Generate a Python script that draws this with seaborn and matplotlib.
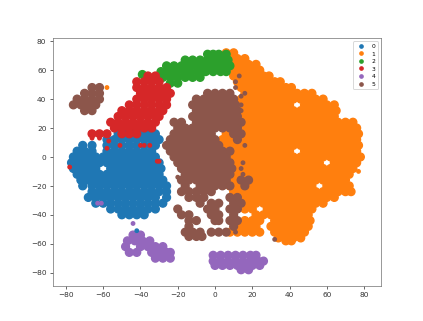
import matplotlib
matplotlib.use("Agg")
import matplotlib.pyplot as plt
import pandas as pd
import seaborn as sns

# Each row: (y, x positions read along that y)
blue_rows = [
 (16,[-52,-48,-44,-40,-36,-32]),
 (12,[-58,-54,-50,-46,-42,-38,-34,-30]),
 (8,[-71,-66,-58,-54,-50,-46,-42,-38,-34,-32]),
 (4,[-74,-70,-66,-58,-54,-50,-46,-42,-38,-34]),
 (0,[-76,-72,-68,-64,-60,-56,-52,-48,-44,-40,-36,-32]),
 (-4,[-77,-74,-70,-66,-62,-58,-54,-50,-46,-42,-38,-34,-30]),
 (-8,[-76,-72,-68,-64,-56,-52,-48,-44,-40,-36,-32,-29]),
 (-12,[-74,-70,-66,-62,-58,-54,-50,-46,-42,-38,-34,-30]),
 (-16,[-72,-68,-64,-60,-56,-52,-48,-44,-40,-36,-32,-28]),
 (-20,[-71,-66,-62,-58,-54,-50,-46,-42,-38,-34,-30,-26]),
 (-24,[-66,-62,-58,-54,-50,-46,-42,-38,-34,-30,-26]),
 (-28,[-68,-64,-60,-56,-52,-48,-44,-40,-36,-32,-26]),
 (-32,[-64,-60,-56,-52,-48,-44,-40,-36,-32,-28]),
 (-36,[-56,-52,-48,-44,-40,-36,-32]),
 (-40,[-50,-46,-42,-38]),
]
orange_rows = [
 (72,[6,10]),
 (68,[8,12,16]),
 (64,[10,14,18,22]),
 (60,[8,12,16,20,24]),
 (56,[10,14,18,22,26,29]),
 (52,[12,16,20,24,28,32,35]),
 (48,[14,18,22,26,30,34,38,41]),
 (44,[16,20,24,28,32,36,40,44,48,52]),
 (40,[14,18,22,26,30,34,38,42,46,50,54,58]),
 (36,[16,20,24,28,32,36,40,48,52,56,60,64]),
 (32,[14,18,22,26,30,34,38,42,46,50,54,58,62,65]),
 (28,[16,20,24,28,32,36,40,44,48,52,56,60,64]),
 (24,[14,18,22,26,30,34,38,42,46,50,54,58,62,66,70,74]),
 (20,[16,20,24,28,32,36,40,44,48,52,56,60,64,68,72,76]),
 (16,[6,14,18,22,26,30,34,38,42,46,50,54,58,62,66,70,74,77]),
 (12,[4,8,12,16,20,24,28,32,36,40,44,48,52,56,60,64,68,72,76]),
 (8,[6,10,14,18,22,26,30,34,38,42,46,50,54,58,62,66,70,74,77]),
 (4,[8,12,16,20,24,28,32,36,40,48,52,56,60,64,68,72,76]),
 (0,[10,14,18,22,26,30,34,38,42,46,50,54,58,62,66,70,74,78]),
 (-4,[12,16,20,24,28,32,36,40,44,48,52,56,64,68,72,76]),
 (-8,[10,14,18,22,26,30,34,38,42,46,50,54,58,62,66,70,74]),
 (-12,[12,16,20,24,28,32,36,40,44,48,52,56,60,64,68,72]),
 (-16,[10,14,18,22,26,30,34,38,42,46,50,54,58,62,66,70]),
 (-20,[8,12,16,20,24,28,32,36,40,44,48,52,60,64,68,72]),
 (-24,[10,14,18,22,26,30,34,38,42,46,50,54,58,62,66,70,73]),
 (-28,[12,16,20,24,28,32,36,40,44,48,52,56,60,64]),
 (-32,[14,18,22,26,30,34,38,42,46,50,54,58]),
 (-36,[16,20,28,32,36,40,44,48,52]),
 (-40,[22,26,30,34,38,42,46,50]),
 (-44,[16,20,24,32,36,40,44,48,51]),
 (-48,[14,18,22,30,34,38,42,46,50]),
 (-52,[8,12,16,20,24,32,36,40,44,48]),
 (-56,[34,38,42,46]),
 (-58,[38,41]),
]
green_rows = [
 (71,[-4,-1,2,6]),
 (67,[-16,-12,-8,-4,0,4,7]),
 (63,[-26,-22,-18,-14,-10,-6,-2,2,6,8]),
 (59,[-29,-25,-21,-17,-13,-9,-5,-1,3,6]),
 (57,[-39]),
 (55,[-28,-24,-20,-16,-12,-8]),
 (51,[-24,-20]),
]
red_rows = [
 (56,[-36,-32]),
 (52,[-42,-38,-34,-30]),
 (48,[-42,-38,-34,-30,-26]),
 (44,[-40,-36,-32,-28,-24]),
 (40,[-42,-38,-34,-30,-26]),
 (36,[-46,-42,-38,-34,-30,-26]),
 (32,[-50,-46,-42,-38,-34,-30,-28]),
 (28,[-52,-48,-44,-40,-36,-32,-30]),
 (24,[-56,-52,-48,-44,-40,-36,-32]),
 (20,[-54,-50,-46,-42,-38,-34]),
 (16,[-66,-62,-58,-50,-46,-42]),
]
purple_rows = [
 (-54,[-44,-40]),
 (-58,[-47,-43,-39,-35]),
 (-62,[-48,-40,-36,-32,-28]),
 (-66,[-46,-42,-34,-30,-26,-24]),
 (-68,[-1,3,7,11,15,19,22]),
 (-70,[-32,-28,-24]),
 (-72,[-1,3,7,11,15,19,23,26]),
 (-75,[0,4,8,12,16,20,24]),
 (-78,[14,18]),
]
brown_rows = [
 (48,[-66,-62]),
 (44,[-70,-66,-62,-4,0,4,8]),
 (40,[-74,-70,-66,-62,-10,-6,-2,2,6,10]),
 (36,[-76,-72,-68,-64,-12,-8,-4,0,4,8,11]),
 (32,[-70,-66,-10,-6,-2,2,6,10,12]),
 (28,[-12,-8,-4,0,4,8,12]),
 (24,[-22,-18,-10,-6,-2,2,6,10,14]),
 (20,[-20,-16,-12,-8,-4,0,4,8,12]),
 (16,[-22,-18,-14,-10,-6,-2,10,14]),
 (12,[-24,-20,-16,-12,-8,-4,0,12]),
 (8,[-26,-22,-18,-14,-10,-6,-2,2]),
 (4,[-24,-20,-16,-12,-8,-4,0,4,8]),
 (0,[-22,-18,-14,-10,-6,-2,2,6]),
 (-4,[-20,-16,-12,-8,-4,0,4,8]),
 (-8,[-18,-14,-10,-6,-2,2,6,9]),
 (-12,[-16,-12,-8,-4,0,4,8]),
 (-16,[-18,-14,-10,-6,-2,2,6,14,18]),
 (-20,[-16,-8,-4,0,4,8,16]),
 (-24,[-18,-14,-10,-6,-2]),
 (-28,[-14,-10,-6,8,12]),
 (-32,[-8,-2,2,10,14]),
 (-36,[-20,-4,0,8,12]),
 (-40,[-18,-14,-2,2,10]),
 (-44,[-14,-10,0,2,8,12]),
 (-48,[-14,10]),
 (-52,[-16,-12,-8,-2,2,6]),
 (-55,[-14,-10,-7]),
]
# Single stray points, read separately
blue_dots = [(-51,[-42])]
orange_dots = [(48,[-58]),(-10,[77])]
green_dots = []
red_dots = [(13,[-66,-62]),(11,[-57]),(8,[-51,-40,-38,-35]),(6,[-58]),(-3,[-31,-30]),(-7,[-78])]
purple_dots = [(-32,[-63,-61]),(-46,[-44])]
brown_dots = [(56,[13]),(52,[11]),(48,[11]),(44,[16]),(42,[14]),(36,[14]),(32,[14]),(8,[16]),
              (-4,[15]),(-8,[14]),(-12,[15]),(-14,[-20]),(-52,[11]),(-57,[32])]

labels = ["0", "1", "2", "3", "4", "5"]
series = [blue_rows, orange_rows, green_rows, red_rows, purple_rows, brown_rows]
strays = [blue_dots, orange_dots, green_dots, red_dots, purple_dots, brown_dots]
tick_values = [-80, -60, -40, -20, 0, 20, 40, 60, 80]


def table(groups):
    rec = [(x, y, lab) for lab, rows in zip(labels, groups) for y, xs in rows for x in xs]
    return pd.DataFrame(rec, columns=["x", "y", "cluster"])


fig, ax = plt.subplots(figsize=(423.2 / 66.1, 321.2 / 66.1), dpi=66.1)
fig.subplots_adjust(left=0.125, right=0.9, top=0.88, bottom=0.11)
sns.scatterplot(data=table(series), x="x", y="y", hue="cluster", hue_order=labels,
                palette="tab10", s=72, linewidth=1.5, edgecolor="face", ax=ax)
sns.scatterplot(data=table(strays), x="x", y="y", hue="cluster", hue_order=labels,
                palette="tab10", s=14, linewidth=1.5, edgecolor="face", ax=ax, legend=False)
ax.set_xlim(-87, 89)
ax.set_ylim(-89, 82)
ax.set_xticks(tick_values)
ax.set_yticks(tick_values)
ax.set_xlabel("")
ax.set_ylabel("")
ax.tick_params(colors="#333333", labelsize=8)
for sp in ax.spines.values():
    sp.set_color("#777777")
ax.legend(loc="upper right", fontsize=6.5, labelspacing=0.4, markerscale=0.42)
fig.savefig("out.png", dpi=66.1)
